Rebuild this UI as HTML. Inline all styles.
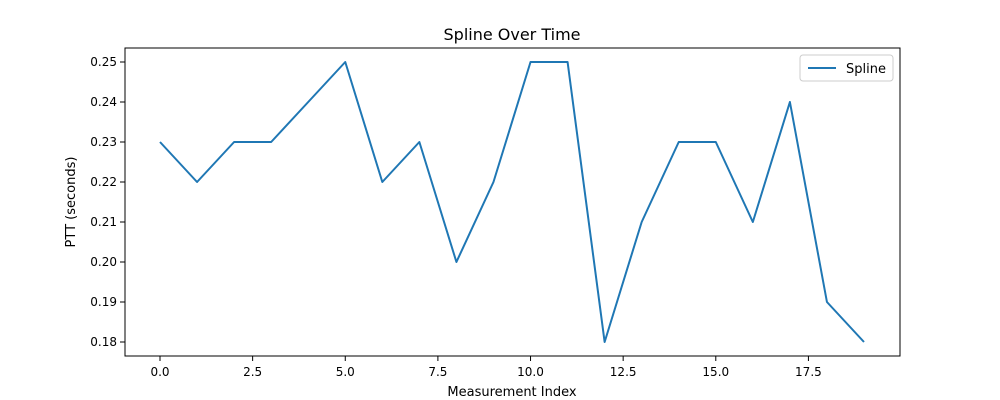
<!DOCTYPE html>
<html><head><meta charset="utf-8"><style>
body{margin:0;background:#fff;}
svg{display:block;font-family:"DejaVu Sans","Liberation Sans",sans-serif;}
</style></head><body>
<svg id="chart" width="1000" height="400">
<rect x="0" y="0" width="1000" height="400" fill="#fff"/>
<text x="512" y="40" text-anchor="middle" font-size="16">Spline Over Time</text>
<g id="axes"></g>
<text x="512" y="396" text-anchor="middle" font-size="13">Measurement Index</text>
<text transform="translate(75,202) rotate(-90)" text-anchor="middle" font-size="13">PTT (seconds)</text>
<g>
<rect x="800" y="55" width="93" height="26" fill="#fff" stroke="#ccc" rx="3"/>
<line x1="808" y1="68" x2="836" y2="68" stroke="#1f77b4" stroke-width="2"/>
<text x="846" y="73" font-size="13">Spline</text>
</g>
</svg>
<script>
const values=[0.23,0.22,0.23,0.23,0.24,0.25,0.22,0.23,0.20,0.22,0.25,0.25,0.18,0.21,0.23,0.23,0.21,0.24,0.19,0.18];
const xTicks=[0,2.5,5,7.5,10,12.5,15,17.5];
const yTicks=[0.18,0.19,0.20,0.21,0.22,0.23,0.24,0.25];
const L=125,R=900,T=48,B=356;
const xs=v=>160+v*(864-160)/19;
const ys=v=>342-(v-0.18)*(342-62)/0.07;
const NS="http://www.w3.org/2000/svg";
const g=document.getElementById('axes');
function mk(t,a){const e=document.createElementNS(NS,t);for(const k in a)e.setAttribute(k,a[k]);g.appendChild(e);return e;}
xTicks.forEach(t=>{
  mk('line',{x1:xs(t),x2:xs(t),y1:B,y2:B+5,stroke:'#000'});
  const e=mk('text',{x:xs(t),y:B+20,'text-anchor':'middle','font-size':12});
  e.textContent=t.toFixed(1);
  
  
});
yTicks.forEach(t=>{
  mk('line',{x1:L-5,x2:L,y1:ys(t),y2:ys(t),stroke:'#000'});
  const e=mk('text',{x:L-8,y:ys(t)+4,'text-anchor':'end','font-size':12});
  e.textContent=t.toFixed(2);
  
  
});
const p=mk('polyline',{points:values.map((v,i)=>xs(i)+','+ys(v)).join(' '),fill:'none',stroke:'#1f77b4','stroke-width':2,'stroke-linejoin':'round'});


const f=mk('rect',{x:L,y:T,width:R-L,height:B-T,fill:'none',stroke:'#000'});


</script>
</body></html>
